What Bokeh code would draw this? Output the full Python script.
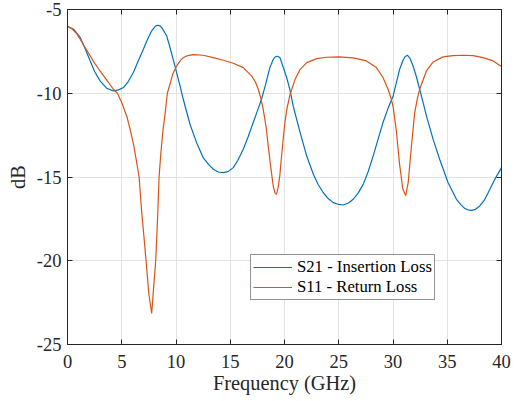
from bokeh.plotting import figure
from bokeh.models import (FixedTicker, LinearAxis, Legend, LegendItem, Range1d)
from bokeh.embed import file_html
from bokeh.resources import INLINE

# ---- data ----
s21_freq = [0.0, 0.6, 1.17, 1.6, 2.09, 2.5, 3.0, 3.6, 4.23, 4.7, 5.15, 5.6, 6.07, 6.5,
            6.99, 7.4, 7.76, 8.05, 8.2, 8.37, 8.55, 8.7, 9.14, 9.45, 9.9, 10.35, 10.67,
            11.29, 11.9, 12.5, 13.0, 13.44, 13.9, 14.36, 14.8, 15.28, 15.7, 16.2, 16.65,
            17.12, 17.5, 17.88, 18.25, 18.65, 18.95, 19.1, 19.3, 19.45, 19.6, 19.88,
            20.2, 20.5, 20.8, 21.44, 22.05, 22.66, 23.1, 23.58, 24.05, 24.5, 25.0,
            25.41, 25.9, 26.33, 26.8, 27.25, 27.7, 28.17, 28.6, 29.08, 29.54, 30.0,
            30.3, 30.6, 30.9, 31.1, 31.32, 31.55, 31.85, 32.15, 32.46, 32.77, 33.08,
            33.7, 34.3, 35.08, 35.85, 36.25, 36.6, 36.9, 37.23, 37.6, 38.0, 38.4, 38.77,
            39.38, 40.0]
s21_db = [-6.0, -6.2, -6.67, -7.3, -8.07, -8.7, -9.26, -9.7, -9.86, -9.8, -9.66, -9.3,
          -8.76, -8.1, -7.37, -6.75, -6.27, -6.03, -5.96, -5.94, -5.99, -6.1, -6.57,
          -7.27, -8.37, -9.5, -10.36, -11.85, -12.95, -13.84, -14.25, -14.54, -14.7,
          -14.74, -14.68, -14.44, -14.0, -13.34, -12.6, -11.75, -11.05, -10.36, -9.5,
          -8.47, -8.0, -7.85, -7.79, -7.82, -7.9, -8.45, -9.06, -9.8, -10.76, -12.35,
          -13.75, -14.84, -15.45, -15.94, -16.3, -16.53, -16.64, -16.67, -16.55,
          -16.33, -15.95, -15.44, -14.7, -13.75, -12.8, -11.75, -10.9, -10.2, -9.4,
          -8.6, -8.07, -7.82, -7.73, -7.9, -8.37, -9.0, -9.76, -10.55, -11.35, -12.75,
          -13.94, -15.34, -16.33, -16.65, -16.87, -16.96, -16.99, -16.93, -16.73,
          -16.4, -15.94, -15.14, -14.44]

s11_freq = [0.0, 0.4, 0.8, 1.17, 1.6, 2.09, 2.5, 3.0, 3.6, 4.23, 4.6, 5.0, 5.5, 5.77,
            6.1, 6.38, 6.6, 6.84, 7.05, 7.24, 7.5, 7.76, 7.95, 8.13, 8.3, 8.44, 8.6,
            8.8, 9.0, 9.2, 9.45, 9.7, 10.06, 10.4, 10.67, 11.1, 11.6, 12.5, 13.44,
            14.36, 15.28, 16.2, 16.96, 17.3, 17.58, 17.82, 18.04, 18.3, 18.5, 18.75,
            18.96, 19.12, 19.26, 19.42, 19.57, 19.75, 19.9, 20.05, 20.2, 20.5, 20.98,
            21.44, 22.05, 22.97, 23.88, 25.0, 26.33, 27.55, 28.47, 29.08, 29.54,
            29.75, 30.0, 30.3, 30.6, 30.9, 31.17, 31.4, 31.7, 32.0, 32.25, 32.46,
            33.08, 33.7, 34.6, 35.54, 36.46, 37.38, 38.3, 39.23, 40.0]
s11_db = [-6.0, -6.15, -6.4, -6.77, -7.25, -7.77, -8.2, -8.67, -9.2, -9.76, -10.0,
          -10.55, -11.45, -12.15, -13.1, -14.14, -15.0, -17.1, -18.6, -20.0, -22.0,
          -23.15, -21.5, -20.0, -17.5, -15.0, -13.6, -12.2, -11.2, -10.0, -9.45,
          -8.85, -8.37, -8.05, -7.87, -7.75, -7.69, -7.73, -7.87, -8.03, -8.21,
          -8.47, -8.96, -9.3, -9.76, -10.3, -10.96, -12.0, -13.15, -14.5, -15.54,
          -15.95, -16.04, -15.6, -14.9, -13.6, -12.6, -11.7, -11.0, -10.1, -9.16,
          -8.57, -8.17, -7.93, -7.85, -7.83, -7.89, -8.07, -8.47, -9.06, -9.76,
          -10.15, -10.76, -12.2, -14.2, -15.7, -16.12, -15.34, -13.15, -11.16, -10.3,
          -9.76, -8.67, -8.13, -7.83, -7.75, -7.73, -7.75, -7.87, -8.07, -8.4]

x_ticks = [0, 5, 10, 15, 20, 25, 30, 35, 40]
x_tick_labels = ["0", "5", "10", "15", "20", "25", "30", "35", "40"]
y_ticks = [-25, -20, -15, -10, -5]
y_tick_labels = ["-25", "-20", "-15", "-10", "-5"]
series_names = ["S21 - Insertion Loss", "S11 - Return Loss"]
x_title = "Frequency (GHz)"
y_title = "dB"

FONT = "Liberation Serif"
DARK = "#262626"
BLUE = "#0072BD"
ORANGE = "#D95319"

p = figure(width=516, height=401, output_backend="svg", toolbar_location=None,
           x_range=Range1d(0, 40), y_range=Range1d(-25, -5),
           x_axis_label=x_title, y_axis_label=y_title,
           min_border_left=67, min_border_right=15, min_border_top=9,
           min_border_bottom=57)
p.background_fill_color = "white"
p.border_fill_color = "white"
p.outline_line_color = DARK
p.outline_line_width = 1

r21 = p.line(s21_freq, s21_db, line_color=BLUE, line_width=1.2)
r11 = p.line(s11_freq, s11_db, line_color=ORANGE, line_width=1.2)

def style_axis(ax, ticks, labels):
    ax.ticker = FixedTicker(ticks=ticks)
    ax.major_tick_in = 5
    ax.major_tick_out = 0
    ax.minor_tick_line_color = None
    ax.major_tick_line_color = DARK
    ax.axis_line_color = DARK
    ax.major_label_text_font = FONT
    ax.major_label_text_color = DARK
    ax.major_label_text_font_size = "18.5px"
    if labels is None:
        ax.major_label_overrides = {t: "" for t in ticks}
        ax.major_label_standoff = 0
    else:
        ax.major_label_overrides = {t: s for t, s in zip(ticks, labels)}

xa = p.xaxis[0]
ya = p.yaxis[0]
style_axis(xa, x_ticks, x_tick_labels)
style_axis(ya, y_ticks, y_tick_labels)
xa.major_label_standoff = 10
ya.major_label_standoff = 6
for ax in (xa, ya):
    ax.axis_label_text_font = FONT
    ax.axis_label_text_font_size = "20.4px"
    ax.axis_label_text_font_style = "normal"
    ax.axis_label_text_color = DARK
xa.axis_label_standoff = 1
ya.axis_label_standoff = 5

top = LinearAxis()
style_axis(top, x_ticks, None)
p.add_layout(top, "above")
right = LinearAxis()
style_axis(right, y_ticks, None)
p.add_layout(right, "right")

p.xgrid.ticker = FixedTicker(ticks=x_ticks)
p.ygrid.ticker = FixedTicker(ticks=y_ticks)
p.grid.grid_line_color = "#e3e3e3"
p.grid.grid_line_width = 1

legend = Legend(items=[LegendItem(label=series_names[0], renderers=[r21]),
                       LegendItem(label=series_names[1], renderers=[r11])],
                location=(183, 44))
legend.label_text_font = FONT
legend.label_text_font_size = "16.7px"
legend.label_text_color = "black"
legend.border_line_color = DARK
legend.border_line_width = 1
legend.background_fill_color = "white"
legend.background_fill_alpha = 1
legend.padding = 2
legend.margin = 0
legend.spacing = 0
legend.glyph_width = 39
legend.glyph_height = 20
legend.label_height = 20
legend.label_standoff = 5
legend.label_text_baseline = "middle"
p.add_layout(legend, "center")

open("out.html", "w").write(file_html(p, INLINE))
